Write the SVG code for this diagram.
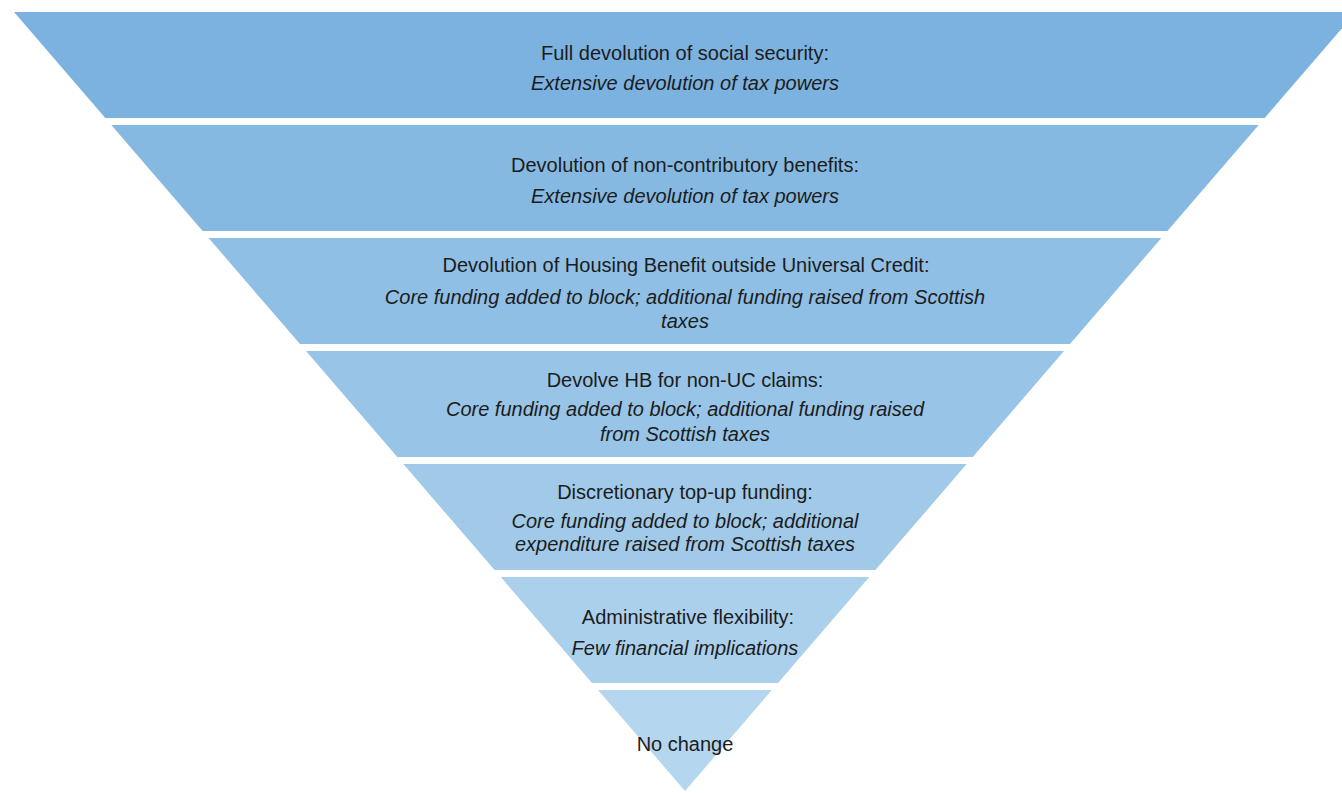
<svg xmlns="http://www.w3.org/2000/svg" width="1342" height="793" viewBox="0 0 1342 793">
<style>
text{font-family:"Liberation Sans",Arial,sans-serif;font-size:20px;fill:#1c1c1c;text-anchor:middle}
.i{font-style:italic}
</style>
<rect width="1342" height="793" fill="#ffffff"/>
<g id="band1"><polygon points="14,12 1356,12 1264.7,118 105.3,118" fill="#7cb2df"/>
<text x="685" y="60">Full devolution of social security:</text>
<text class="i" x="685" y="90">Extensive devolution of tax powers</text></g>
<g id="band2"><polygon points="111.3,125 1258.7,125 1167.4,231 202.6,231" fill="#86b9e2"/>
<text x="685" y="172">Devolution of non-contributory benefits:</text>
<text class="i" x="685" y="203">Extensive devolution of tax powers</text></g>
<g id="band3"><polygon points="208.6,238 1161.4,238 1070,344 300,344" fill="#8fbfe5"/>
<text x="686" y="272">Devolution of Housing Benefit outside Universal Credit:</text>
<text class="i" x="685" y="304">Core funding added to block; additional funding raised from Scottish</text>
<text class="i" x="685" y="328">taxes</text></g>
<g id="band4"><polygon points="306,351 1064,351 972.7,457 397.3,457" fill="#98c4e7"/>
<text x="685" y="387">Devolve HB for non-UC claims:</text>
<text class="i" x="685" y="416">Core funding added to block; additional funding raised</text>
<text class="i" x="685" y="441">from Scottish taxes</text></g>
<g id="band5"><polygon points="403.3,464 966.7,464 875.4,570 494.6,570" fill="#a1cae9"/>
<text x="685" y="499">Discretionary top-up funding:</text>
<text class="i" x="685" y="528">Core funding added to block; additional</text>
<text class="i" x="685" y="551">expenditure raised from Scottish taxes</text></g>
<g id="band6"><polygon points="500.7,577 869.3,577 778,683 592,683" fill="#abd0ec"/>
<text x="688" y="624">Administrative flexibility:</text>
<text class="i" x="685" y="655">Few financial implications</text></g>
<g id="band7"><polygon points="598,690 772,690 685,791" fill="#b5d6ef"/>
<text x="685" y="751">No change</text></g>
<g id="connectors"/>
</svg>
